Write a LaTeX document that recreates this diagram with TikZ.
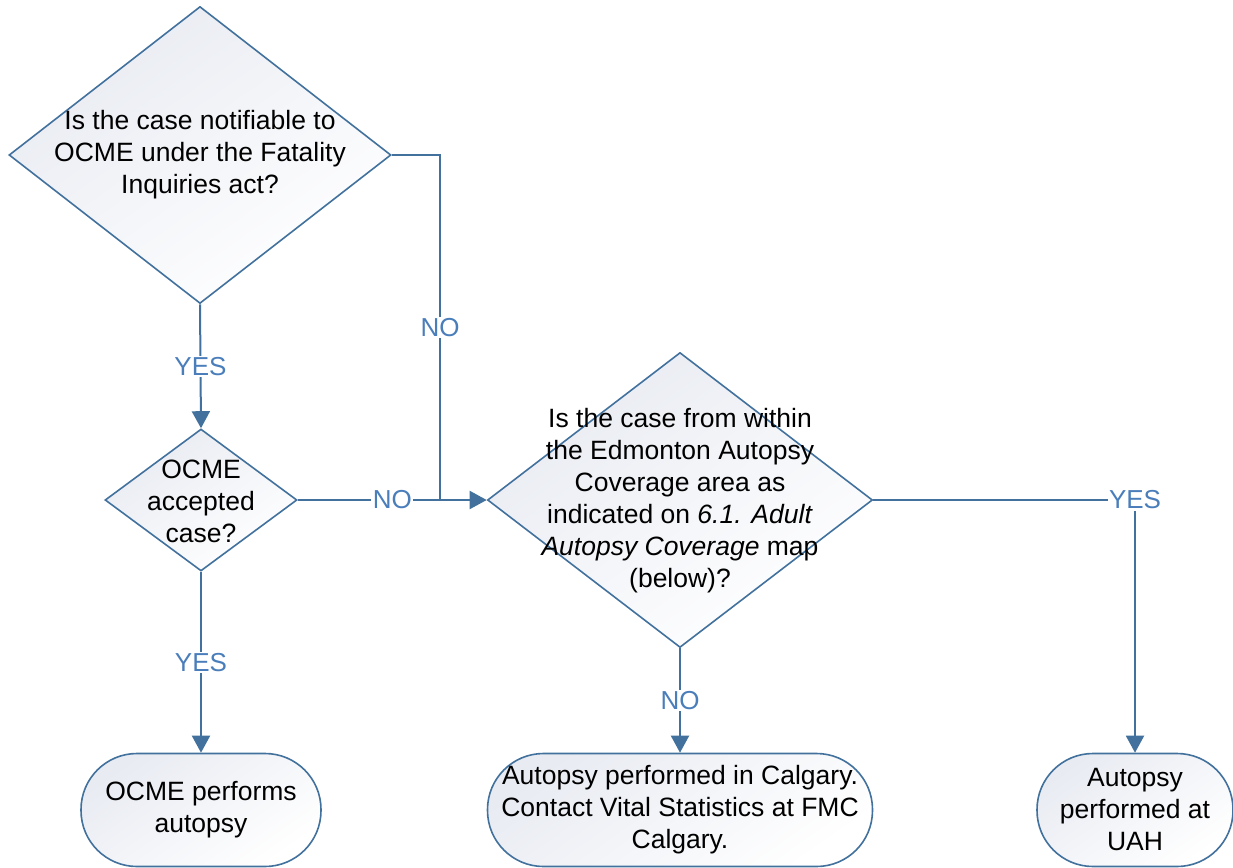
\documentclass[tikz,border=0pt]{standalone}
\usepackage{fontspec}
\setmainfont{Liberation Sans}
\usetikzlibrary{shapes.geometric,arrows.meta}
\definecolor{lineblue}{HTML}{41719C}
\definecolor{labelblue}{HTML}{4A7EBB}
\definecolor{fillgray}{HTML}{E8EBF2}
\tikzset{
  shapefill/.style={top color=fillgray, bottom color=white, shading angle=35},
  decision/.style={diamond, draw=lineblue, line width=1.6pt, shapefill, inner sep=0pt},
  terminal/.style={rectangle, rounded corners=56pt, draw=lineblue, line width=1.6pt, shapefill, inner sep=0pt, align=center, font=\fontsize{26.5}{32}\selectfont},
  dtext/.style={align=center, inner sep=0pt, font=\fontsize{26.5}{32}\selectfont},
  conn/.style={draw=lineblue, line width=2pt},
  arr/.style={conn, -{Triangle[width=18pt,length=17pt]}},
  lbl/.style={fill=white, text=labelblue, inner sep=1.5pt, font=\fontsize{26}{30}\selectfont}
}
\begin{document}
\begin{tikzpicture}[x=1pt,y=-1pt]
\useasboundingbox (0,0) rectangle (1233,867);
% decisions
\node[decision, minimum width=382pt, minimum height=297pt] (d1) at (200,155) {};
\node[dtext] (d1t) at (200,155) {Is the case notifiable to\\OCME under the Fatality\\Inquiries act?};
\node[decision, minimum width=192pt, minimum height=142pt] (d2) at (201,500) {};
\node[dtext] (d2t) at (201,501) {OCME\\accepted\\case?};
\node[decision, minimum width=385pt, minimum height=295pt] (d3) at (680,500) {};
\node[dtext] (d3t) at (680,501) {Is the case from within\\the Edmonton Autopsy\\Coverage area as\\indicated on \textit{6.1. Adult}\\\textit{Autopsy Coverage} map\\(below)?};
% terminals
\node[terminal, minimum width=240pt, minimum height=113pt] (t1) at (201,810) {OCME performs\\autopsy};
\node[terminal, minimum width=385pt, minimum height=113pt] (t2) at (680,810) {Autopsy performed in Calgary.\\Contact Vital Statistics at FMC\\Calgary.};
\node[terminal, minimum width=196pt, minimum height=113pt] (t3) at (1135,810) {Autopsy\\performed at\\UAH};
% connectors
\coordinate (j) at (440,500);
\path[conn] (d1.east) -| node[lbl, pos=0.75] (n1) {NO} (j);
\path[arr] (d1.south) -- node[lbl] (y1) {YES} (d2.north);
\path[arr] (d2.east) -- node[lbl] (n2) {NO} (d3.west);
\path[arr] (d2.south) -- node[lbl] (y2) {YES} (t1.north);
\path[arr] (d3.south) -- node[lbl] (n3) {NO} (t2.north);
\path[arr] (d3.east) -| node[lbl, pos=0.5] (y3) {YES} (t3.north);
\end{tikzpicture}
\end{document}
